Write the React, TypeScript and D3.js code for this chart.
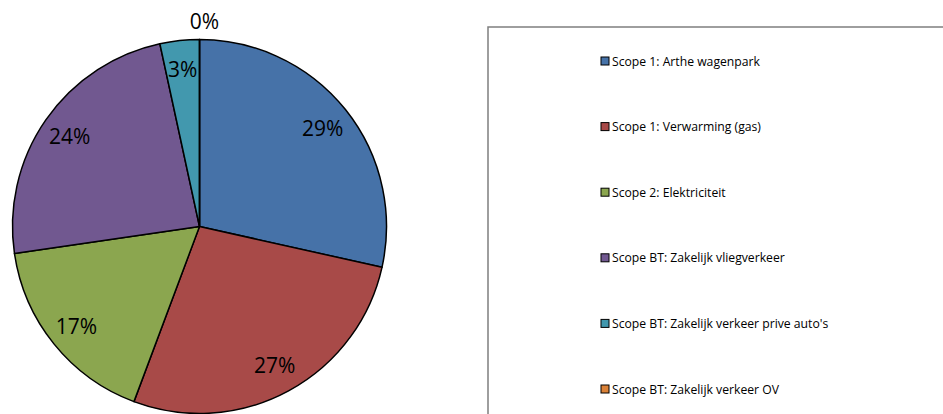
import React from "react";
import * as d3 from "d3";

const categories = [
  "Scope 1: Arthe wagenpark",
  "Scope 1: Verwarming (gas)",
  "Scope 2: Elektriciteit",
  "Scope BT: Zakelijk vliegverkeer",
  "Scope BT: Zakelijk verkeer prive auto's",
  "Scope BT: Zakelijk verkeer OV",
];
const values = [28.5, 27.2, 17.0, 23.9, 3.4, 0.0];
const labels = ["29%", "27%", "17%", "24%", "3%", "0%"];
const colors = ["#4672a8", "#a84a48", "#8ba64f", "#715890", "#4298ae", "#da8137"];

const W = 943;
const H = 414;
const cx = 199.5;
const cy = 226.5;
const R = 187;

export default function App() {
  const pie = d3.pie<number>().sort(null).value((d) => d);
  const arcs = pie(values);
  const arcGen = d3.arc<d3.PieArcDatum<number>>().innerRadius(0).outerRadius(R);
  const labelArc = d3.arc<d3.PieArcDatum<number>>().innerRadius(158).outerRadius(158);
  const outerLabelArc = d3.arc<d3.PieArcDatum<number>>().innerRadius(206).outerRadius(206);
  const font = "'Open Sans', sans-serif";
  const legendY = d3.scalePoint<number>().domain(d3.range(categories.length)).range([61, 389]);

  return (
    <svg width={W} height={H} style={{ position: "absolute", left: 0, top: 0 }}>
      <rect width={W} height={H} fill="#fff" />
      <g transform={`translate(${cx},${cy})`}>
        {arcs.map((a, i) => (
          <path key={i} d={arcGen(a) || ""} fill={colors[i]} stroke="#000" strokeWidth={1.5} strokeLinejoin="round" />
        ))}
        {arcs.map((a, i) => {
          const [x, y] = a.value === 0 ? outerLabelArc.centroid(a) : labelArc.centroid(a);
          return (
            <text key={i} x={a.value === 0 ? x + 5 : x} y={y} textAnchor="middle" dominantBaseline="central"
              fontFamily={font} fontSize={21} fill="#000">
              {labels[i]}
            </text>
          );
        })}
      </g>
      <rect x={488} y={27} width={470} height={400} fill="none" stroke="#7f7f7f" strokeWidth={1.5} />
      {categories.map((c, i) => (
        <g key={i} transform={`translate(601,${legendY(i)})`}>
          <rect x={0} y={-4} width={8} height={8} fill={colors[i]} stroke="#000" strokeWidth={1} />
          <text x={11} y={0} dominantBaseline="central" fontFamily={font} fontSize={12.2} fill="#000">
            {c}
          </text>
        </g>
      ))}
    </svg>
  );
}
